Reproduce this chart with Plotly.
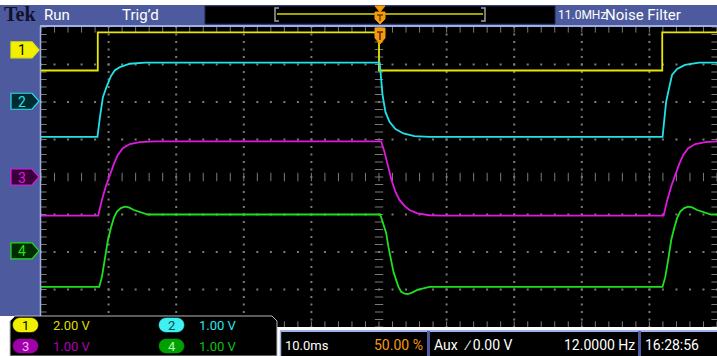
import numpy as np
import plotly.graph_objects as go

W, H = 717, 356
GX0, GX1, GY0, GY1 = 41, 717, 27, 327          # graticule box in pixels

# ---- acquisition settings -------------------------------------------------
time_range_ms = [-50.0, 50.0]                  # 10 div x 10.0 ms, trigger at 50 %
div_range = [-4.0, 4.0]                        # 8 vertical divisions
ch_names = ["1", "2", "3", "4"]
ch_volts_per_div = [2.0, 1.0, 1.0, 1.0]
ch_marker_div = [3.39, 2.02, 0.0, -1.97]       # ground-marker position, div from centre
ch_scale_labels = ["2.00 V", "1.00 V", "1.00 V", "1.00 V"]
ch_colors = ["#e8e800", "#1fe3e8", "#e019e0", "#1fe01f"]

# ---- captured waveforms (time in ms, amplitude in V) ----------------------
ch1_t = [-50.0, -41.6, -41.6, 0.0, 0.0, 41.9, 41.9, 50.0]
ch1_v = [-1.10, -1.10, 0.93, 0.93, -1.10, -1.10, 0.93, 0.93]

ch2_t = [-50.0, -41.65, -41.28, -40.84, -40.29, -39.66, -39.07, -38.33, -36.85, -34.64,
         0.10, 0.52, 0.96, 1.55, 2.44, 3.62, 5.24, 7.46,
         41.95, 42.17, 42.47, 42.91, 43.35, 44.09, 45.27, 47.34, 50.0]
ch2_v = [-0.95, -0.95, -0.42, 0.11, 0.39, 0.67, 0.83, 0.91, 1.00, 1.03,
         1.03, 0.17, -0.29, -0.55, -0.74, -0.86, -0.93, -0.95,
         -0.95, -0.45, -0.02, 0.35, 0.70, 0.86, 0.97, 1.03, 1.03]

ch3_t = [-50.0, -41.54, -40.99, -40.40, -39.81, -39.22, -38.63, -37.90, -36.86, -35.38, -33.17,
         0.32, 0.81, 1.40, 1.85, 2.44, 3.03, 3.77, 4.51, 5.69, 7.46, 9.67,
         42.10, 42.65, 43.24, 43.83, 44.42, 45.01, 45.74, 46.78, 48.26, 50.0]
ch3_v = [-1.03, -1.03, -0.61, -0.24, 0.05, 0.35, 0.59, 0.77, 0.88, 0.93, 0.95,
         0.95, 0.67, 0.24, -0.08, -0.40, -0.61, -0.77, -0.88, -0.97, -1.02, -1.03,
         -1.03, -0.61, -0.24, 0.05, 0.35, 0.59, 0.77, 0.88, 0.93, 0.95]

ch4_t = [-50.0, -41.39, -40.99, -40.55, -40.10, -39.66, -39.22, -38.77, -38.18, -37.60, -37.00,
         -36.26, -35.38, -34.20,
         0.18, 0.66, 1.06, 1.40, 1.80, 2.14, 2.54, 2.88, 3.28, 3.77, 4.25, 4.80, 5.69, 6.57, 7.46,
         41.94, 42.34, 42.78, 43.23, 43.67, 44.11, 44.56, 45.15, 45.73, 46.33, 47.07, 47.95,
         49.13, 50.0]
ch4_v = [-0.96, -0.96, -0.70, -0.24, 0.29, 0.61, 0.88, 1.05, 1.14, 1.18, 1.16,
         1.09, 1.03, 0.97,
         0.97, 0.69, 0.48, 0.10, -0.24, -0.56, -0.78, -0.96, -1.09, -1.14, -1.15, -1.12, -1.04,
         -0.99, -0.96,
         -0.96, -0.70, -0.24, 0.29, 0.61, 0.88, 1.05, 1.14, 1.18, 1.16, 1.09, 1.03,
         0.97, 0.97]

waveforms = [(ch1_t, ch1_v), (ch2_t, ch2_v), (ch3_t, ch3_v), (ch4_t, ch4_v)]

# ---- helpers for the instrument chrome (pixel -> paper) -------------------
def px(x):
    return x / W

def py(y):
    return 1 - y / H

def path(pts, close=True):
    s = "M " + " L ".join(f"{px(x):.5f},{py(y):.5f}" for x, y in pts)
    return s + (" Z" if close else "")

def pill(x0, y0, x1, y1, r):
    pts = []
    for cx, cy, a0 in [(x1 - r, y0 + r, -90), (x1 - r, y1 - r, 0),
                       (x0 + r, y1 - r, 90), (x0 + r, y0 + r, 180)]:
        for a in np.linspace(a0, a0 + 90, 7):
            pts.append((cx + r * np.cos(np.radians(a)), cy + r * np.sin(np.radians(a))))
    return path(pts)

def rect(x0, y0, x1, y1, fill, line=None, lw=0):
    return dict(type="rect", xref="paper", yref="paper",
                x0=px(x0), x1=px(x1), y0=py(y1), y1=py(y0),
                fillcolor=fill, line=dict(color=line or fill, width=lw))

def shp(d, fill, line=None, lw=1):
    return dict(type="path", xref="paper", yref="paper", path=d,
                fillcolor=fill, line=dict(color=line or fill, width=lw))

def seg(x0, y0, x1, y1, color, lw=1):
    return dict(type="line", xref="paper", yref="paper",
                x0=px(x0), y0=py(y0), x1=px(x1), y1=py(y1),
                line=dict(color=color, width=lw))

NARROW = "Roboto, Liberation Sans, sans-serif"

def label(x, y, text, color, size=13, anchor="left", family=NARROW):
    return dict(x=px(x), y=py(y), xref="paper", yref="paper", text=text,
                showarrow=False, xanchor=anchor, yanchor="middle",
                font=dict(family=family, size=size, color=color))

fig = go.Figure()

# ---- graticule ------------------------------------------------------------
tmin, tmax = time_range_ms
t_minor = np.arange(tmin, tmax + 1e-9, 2.0)
d_minor = np.arange(div_range[0], div_range[1] + 1e-9, 0.2)
grid_c = "#7a7a7a"

gx, gy = [], []
for t in np.arange(tmin + 10, tmax, 10.0):
    if abs(t) < 1e-9:
        continue
    gx += [t] * len(d_minor)
    gy += list(d_minor)
for d in np.arange(div_range[0] + 1, div_range[1], 1.0):
    if abs(d) < 1e-9:
        continue
    gx += list(t_minor)
    gy += [d] * len(t_minor)
fig.add_trace(go.Scatter(x=gx, y=gy, mode="markers", hoverinfo="skip",
                         marker=dict(symbol="square", size=2, color=grid_c,
                                     line=dict(width=0))))
# centre-line ticks
fig.add_trace(go.Scatter(x=[0.0] * len(d_minor), y=d_minor, mode="markers", hoverinfo="skip",
                         marker=dict(symbol="line-ew", size=6, line=dict(color=grid_c, width=1))))
fig.add_trace(go.Scatter(x=t_minor, y=[0.0] * len(t_minor), mode="markers", hoverinfo="skip",
                         marker=dict(symbol="line-ns", size=6, line=dict(color=grid_c, width=1))))
# border ticks
fig.add_trace(go.Scatter(x=[tmin] * len(d_minor) + [tmax] * len(d_minor),
                         y=list(d_minor) * 2, mode="markers", hoverinfo="skip",
                         marker=dict(symbol="line-ew", size=8, line=dict(color=grid_c, width=1))))
fig.add_trace(go.Scatter(x=list(t_minor) * 2,
                         y=[div_range[1]] * len(t_minor) + [div_range[0]] * len(t_minor),
                         mode="markers", hoverinfo="skip",
                         marker=dict(symbol="line-ns", size=8, line=dict(color=grid_c, width=1))))

# ---- channel traces, one y-axis per channel --------------------------------
for i, ((t, v), col) in enumerate(zip(waveforms, ch_colors)):
    fig.add_trace(go.Scatter(x=t, y=v, mode="lines", yaxis=f"y{i + 2}",
                             line=dict(color=col, width=1.8), hoverinfo="skip"))

xdom = [GX0 / W, GX1 / W]
ydom = [1 - GY1 / H, 1 - GY0 / H]
axis_common = dict(visible=False, showgrid=False, zeroline=False, fixedrange=True)
layout_axes = dict(
    xaxis=dict(range=time_range_ms, domain=xdom, **axis_common),
    yaxis=dict(range=div_range, domain=ydom, **axis_common),
)
for i, (s, m) in enumerate(zip(ch_volts_per_div, ch_marker_div)):
    layout_axes[f"yaxis{i + 2}"] = dict(range=[(div_range[0] - m) * s, (div_range[1] - m) * s],
                                        overlaying="y", domain=ydom, **axis_common)

# ---- instrument chrome ------------------------------------------------------
BLUE = "#4d5b9e"
EDGE = "#9fb0e6"
ORANGE = "#f59a0c"
shapes = [
    rect(0, 5, W, GY0, BLUE),
    rect(0, GY0, GX0, 316, BLUE),
    seg(GX0 - 1, GY0 - 1, W, GY0 - 1, EDGE, 2),
    seg(GX0 - 0.5, GY0 - 1, GX0 - 0.5, 316, EDGE, 1.5),
    # record view
    rect(205, 6, 555, 24, "black", "#1c2450", 1),
    seg(277, 14, 483, 14, "#d8d800", 1.5),
    shp(path([(279, 8), (275, 8), (275, 21), (279, 21)], close=False), "rgba(0,0,0,0)", "#a0a0a0", 1.5),
    shp(path([(481, 8), (485, 8), (485, 21), (481, 21)], close=False), "rgba(0,0,0,0)", "#a0a0a0", 1.5),
    # trigger position markers
    shp(path([(375, 6), (385, 6), (380, 12)]), ORANGE),
    shp(path([(375, 12), (385, 12), (385, 19), (380, 24), (375, 19)]), ORANGE),
    seg(377, 15, 383, 15, "#5a2a00", 1.2), seg(380, 15, 380, 21, "#5a2a00", 1.2),
    shp(path([(375, 28), (385, 28), (385, 38), (380, 44), (375, 38)]), ORANGE),
    seg(377, 32, 383, 32, "#5a2a00", 1.5), seg(380, 32, 380, 40, "#5a2a00", 1.5),
]

# channel ground markers on the left strip
marker_y = [GY0 + (4 - m) * (GY1 - GY0) / 8 for m in ch_marker_div]
marker_fill = ["#f0f000", "#002a30", "#3a003a", "#002a00"]
marker_text = ["black", ch_colors[1], ch_colors[2], ch_colors[3]]
annotations = []
for name, y, f, tc, col in zip(ch_names, marker_y, marker_fill, marker_text, ch_colors):
    shapes.append(shp(path([(11, y - 8), (32, y - 8), (39, y), (32, y + 8), (11, y + 8)]),
                      f, col, 1.2))
    annotations.append(label(22, y + 0.5, name, tc, 14, "center"))

# readout panel (bottom left)
shapes.append(shp(path([(277, 356), (277, 321), (272, 316), (15, 316), (10, 321), (10, 356)]),
                  "black", "#b8b8b8", 1))
badge_pos = [(13, 318), (159, 318), (13, 339), (159, 339)]
badge_fill = ["#f0f000", "#3ff0f0", "#a000a8", "#00a000"]
badge_text = ["black", "#004a50", "#ffb0ff", "#b0ffb0"]
value_colors = ["#dede00", "#30e4e8", "#b000b8", "#10c010"]
for name, (bx, by), bf, bt, lab, vc in zip(ch_names, badge_pos, badge_fill, badge_text,
                                           ch_scale_labels, value_colors):
    shapes.append(shp(pill(bx, by, bx + 25, by + 14, 7), bf, bf, 0.5))
    annotations.append(label(bx + 12.5, by + 7.5, name, bt, 13, "center"))
    annotations.append(label(bx + 38, by + 7.5, lab, vc, 13))

# status bar (bottom right)
shapes += [
    rect(280, 330, W, H, "black"),
    seg(280, 331, W, 331, EDGE, 2),
    seg(280.5, 331, 280.5, H, EDGE, 1.5),
    rect(427, 331, 430, H, BLUE),
    rect(638, 331, 641, H, BLUE),
]

annotations += [
    label(2, 14, "<b>Tek</b>", "#10122e", 20, family="Liberation Serif, DejaVu Serif, serif"),
    label(42, 15, "Run", "white", 15),
    label(120, 15, "Trig\u2019d", "white", 15),
    label(556, 15, "11.0MHz", "white", 12),
    label(603, 15, "Noise Filter", "white", 15),
    label(283, 345, "10.0ms", "white", 13),
    label(425, 345, "50.00 %", ORANGE, 14, "right"),
    label(432, 345, "Aux", "white", 14),
    label(462, 345, "\u2215 0.00 V", "white", 14),
    label(637, 345, "12.0000 Hz", "white", 14, "right"),
    label(643, 345, "16:28:56", "white", 14),
]

fig.update_layout(
    width=W, height=H, margin=dict(l=0, r=0, t=0, b=0),
    paper_bgcolor="white", plot_bgcolor="black",
    showlegend=False, shapes=shapes, annotations=annotations,
    **layout_axes,
)

fig.write_html("out.html", config={"displayModeBar": False})
